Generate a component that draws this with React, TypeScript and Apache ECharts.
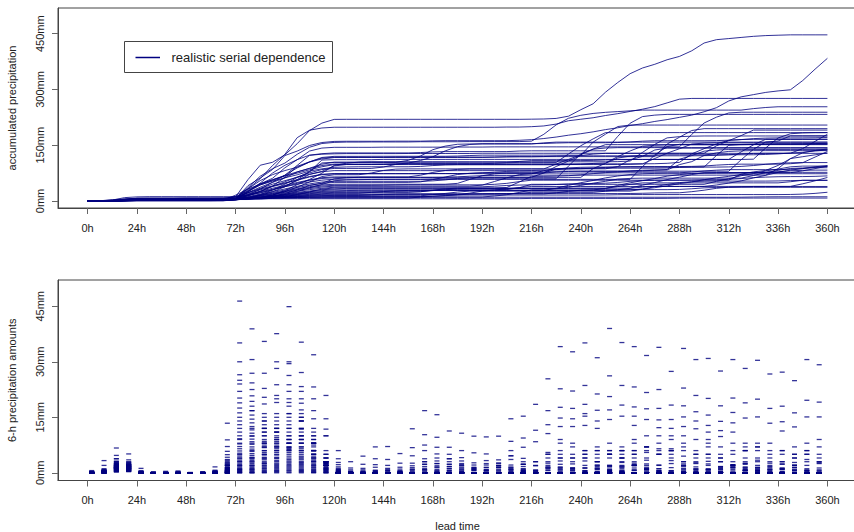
import React, { useEffect, useRef } from "react";
import * as echarts from "echarts";

const leadTimeTicks = [0, 24, 48, 72, 96, 120, 144, 168, 192, 216, 240, 264, 288, 312, 336, 360];
const accumTicks = [0, 150, 300, 450];
const amountTicks = [0, 15, 30, 45];
const legendLabel = "realistic serial dependence";
const stepHours = 6;
const dashOffsetHours = 2;

// 6-h amounts (mm) per member, intervals 0-6h ... 66-72h
const early: number[][] = [
  [0.2,1.1,3.8,2.4,0.2,0,0,0.1,0,0,0.3,2.7],
  [0.1,0.5,2.5,2.9,0,0,0.1,0,0,0,0.2,1.7],
  [0,0.3,1.9,1.6,0.1,0,0,0,0,0,0,2.0],
  [0.3,0.9,2.1,1.3,0,0.1,0,0.2,0,0.1,0.4,0.5],
  [0,0.2,1.5,1.8,0,0,0,0,0,0,0.1,1.4],
  [0.1,0.4,1.2,2.2,0.3,0,0,0,0,0,0,1.0],
  [0,0,0.9,1.0,0,0,0,0,0,0,0,2.3],
  [0,0.6,2.8,1.1,0,0,0,0,0,0,0,0.3],
  [0.4,3.3,1.3,0.6,0.1,0,0,0,0,0.2,0,0],
  [0,0.7,3.1,2.0,0,0,0,0,0,0,0,0],
  [0,0,0.5,0.4,0,0,0,0,0,0,0.1,1.2],
  [0.1,0.4,1.7,1.7,0,0,0,0.3,0,0,0,0.8],
  [0,0.2,0.8,0.9,0,0,0,0,0,0,0.5,0.6],
  [0,0.3,2.3,1.4,0.2,0,0,0,0,0,0,0.4],
  [0,0.1,1.0,0.8,0,0,0,0,0,0,0,2.0],
  [0,0.2,1.1,0.7,0,0,0,0,0,0,0.2,13.4],
  [0.6,0.8,1.4,1.2,0,0,0.4,0,0,0,0,0.5],
  [0.3,2.0,6.7,2.0,0.6,0,0,0,0,0,0,0],
  [0,0.4,1.6,1.0,0,0,0,0,0,0,0.7,8.9],
  [0.2,0.3,1.5,5.1,0,0,0,0.5,0,0,0,0],
  [0,0.5,2.0,1.8,1.2,0.3,0,0,0.1,0,0,0.2],
  [0,0.2,0.7,0.5,0,0,0,0,0,0,1.6,1.0],
  [0.1,0.3,1.3,1.4,0,0,0.2,0,0,0.3,0.5,7.1],
  [0,0.1,0.6,0.4,0,0,0,0,0,0,0.2,5.8],
  [0,0,0.5,0.6,0,0,0,0,0,0,0.3,4.9],
  [0,0.2,1.2,1.7,0.4,0,0,0,0,0,0,0.4],
  [0.1,0.4,1.4,1.3,0,0.1,0,0.1,0,0,0,4.2],
  [0,0.2,1.5,2.0,0,0,0,0,0,0,0,0.8],
  [0,0.1,1.1,1.6,0,0,0,0,0,0,0,1.2],
  [0,0,0.4,0.9,0,0,0,0,0,0,0,3.6],
  [0,0.2,1.9,1.4,0,0,0,0,0,0,0,0],
  [0,0,0.3,0.7,0,0,0,0,0,0,0,3.1],
  [0,0.4,2.2,1.2,0.1,0,0,0,0,0,0.1,0],
  [0,0,0.6,0.8,0,0,0,0,0,0,0,2.4],
  [0,0.1,1.3,1.1,0,0,0,0,0,0,0,1.4],
  [0,0,0.2,0.3,0,0,0,0,0,0,0,2.7],
  [0,0.3,1.6,1.5,0,0,0,0,0,0,0,0],
  [0,0,0.9,1.2,0,0,0,0,0,0,0,2.0],
  [0,0.2,2.5,1.8,0,0,0,0,0,0,0,0],
  [0.1,0.5,1.9,2.2,0,0,0,0,0,0,0,0.3],
  [0,0.1,2.3,2.4,0,0,0,0,0,0,0,0.2],
  [0,0.6,2.1,2.4,0.2,0,0,0,0,0,0,0.1],
  [0,0,1.7,2.6,0,0,0,0,0,0,0,1.4],
  [0,0.1,3.8,2.1,0,0,0,0,0,0,0,0],
  [0,0.2,2.8,2.9,0,0,0.1,0,0,0,0,0.8],
  [0,0.1,1.9,3.5,0,0,0,0,0,0.1,0.1,0.6],
  [0,0.3,4.7,1.8,0,0,0,0,0,0,0,0.3],
  [0.1,0.5,3.1,2.9,0.3,0,0,0.2,0,0,0,0.7],
  [0,0.2,2.5,2.2,0.1,0,0,0,0,0,0,2.0],
  [0,0,1.0,1.6,0,0,0,0,0,0,0,3.4],
];

// 6-h amounts, intervals 72-78h ... 114-120h
const phaseC: number[][] = [
  [46.4,38.9,8,20,30,35.3,20,10],
  [25,26.9,35.5,30,44.9,20,6,2],
  [35.1,20.8,22.8,37.6,12,15,8,3],
  [30,30.6,20.4,15,23.8,18.8,10,3],
  [18.9,24.3,26.9,20.9,15,23.3,8,2],
  [24,16.8,15,28.2,22,12,4,2],
  [12,15.6,18.6,19,26.3,27.1,3,1],
  [20.2,18,12,14,20,16,12,3],
  [8,12,14,23.8,29.5,12,10,2.5],
  [26.5,22.5,16,11,9,14,8,4],
  [5,10,12,16,18,15,31.9,1],
  [17.5,14.5,13,12,16,10,11,5],
  [4,8,10,13,19,22,23.2,2],
  [22,19.3,11,10,8,9,8,6],
  [1,4,7,12,16,14,16.8,20.9],
  [16.2,13.5,12,11,10,9,8,4],
  [9,11.6,14,12,13,11,9,3],
  [15,16.8,10,9,8,10,6,4],
  [3,6,8,11,14,17,8,14.6],
  [14,12.5,11,9.5,9,8,7,3],
  [13,10.7,9,8,11,8,6,2],
  [2,4,6,9,12,14,14.6,5],
  [11,9.9,8.5,8,7,9,6,2.5],
  [10,9.1,8,7.5,8,7,6,2],
  [7.8,8.4,7.5,8.5,9,8,5,2],
  [1,3,5,7,10,11.8,6,11.8],
  [9.2,7.7,7,7,6.5,6,5,2.5],
  [7.1,7,6.8,7,7,6.5,5,2],
  [6.5,6.4,6,6.5,6.8,6,5,2.8],
  [0.5,2,4,6,8,10,9,10],
  [5.9,5.8,5.5,6,6.3,5.5,4.5,2],
  [5.3,5.2,5,5.5,6,5,4,2],
  [4.8,4.7,4.8,5,5.5,4.5,4,2.7],
  [4.3,4.2,4.2,4.8,5,4.2,3.5,3],
  [0,1,2.5,4,6,7,7.5,3],
  [3.8,3.7,3.8,4.2,4.5,3.8,3.2,2],
  [3.4,3.3,3.5,3.8,4,3.5,3,2],
  [3,2.9,3,3.3,3.6,3,2.6,1.6],
  [2.6,2.5,2.7,3,3.2,2.8,2.2,1.5],
  [2.2,2.1,2.4,2.6,2.9,2.5,2,1.3],
  [1.9,1.8,2,2.3,2.6,2.2,1.8,1.2],
  [1.6,1.5,1.8,2,2.2,1.9,1.5,1],
  [1.3,1.2,1.5,1.7,1.9,1.6,1.3,0.8],
  [1,0.9,1.2,1.4,1.6,1.3,1,0.6],
  [0.8,0.7,1,1.1,1.3,1,0.8,0.5],
  [0.6,0.5,0.7,0.8,1,0.8,0.6,0.4],
  [0.4,0.3,0.5,0.6,0.7,0.6,0.4,0.2],
  [0.2,0.1,0.3,0.4,0.5,0.4,0.2,0.1],
  [0.1,0,0.1,0.2,0.2,0.2,0.1,0],
  [0,0,0,0,0,0,0,0],
];

// 6-h amounts, intervals 120-126h ... 210-216h
const phaseD: number[][] = [
  [0.2,0,0,0,0,0,0,0,0,0,0,0,0,0,0,0.4],
  [0,0,0,0,0,0,0,0,0,0,0,0,0,0.5,0,1],
  [0.4,0,0,0,0.3,0,0,0.8,0.5,0,0,0,0,0,1,1.7],
  [0.9,0,0.3,0,0,0,0.6,0,0,0,0.4,0,0,0,0,1.1],
  [0,0,0,0.4,0,0,0,0,0,0.3,0,0,0.5,0,0,0],
  [0,0,0,0,0,0,1,1.7,0.9,0,0,0,0,0,1.5,0.6],
  [0.6,0,0,0,0,0.3,0,0,0,0,0,0.6,0,0,0,0],
  [0,0,0.2,0,0,0,0,0,0,0.7,1.3,1,0,0,0,0],
  [0,0,0,0,0.6,0,0,0,0,0,0,0,0,0,0.5,0],
  [0,0.1,0,0,0,0,0,0,0,0,0,0,0.9,1.4,0,0],
  [0,0,0,0.7,0,0,0,0,0,0,0,0,0,0,0,0],
  [0,0,0,0,0,5.2,11.9,16.8,9.6,5,0.8,0,0,0,0,0],
  [0,0,0,0,0,0,0,0,0,0,0,0,0,0,2.1,2.3],
  [0.3,0,0,0.6,1.2,0.4,0,0,0,0,0,0,0.8,1.6,0.9,0],
  [6,3,0.8,0,0,0,0,0,0,0,0,0,0,0,0,0],
  [0,0,0,0,0,2.6,6.8,10.3,15.7,11.3,6,2.1,0,0,0,0],
  [0,0,0,3.8,7.1,1.5,0,0,0,0,0,0,0,0,0,0],
  [1.2,0.4,0,0,0,0,0.9,2.3,1.6,0.6,0,0,0,0,0,0],
  [3.8,0,0,0,0,0,0,0,0,0,0,0,0,0,0,0],
  [0,0,0,0,0,0,0,0,0,0,0,0,0,0,0,0.3],
  [0,0,0,0,0,0,0,0,0,0,0.4,1.2,2.1,1.9,0.7,0],
  [0,0,4.5,7,3.6,0.6,0,0,0,0,0,0,0,0,0,0],
  [0,0,0,0,0,0,0,0.4,0,0,0,0,0,0,0,0],
  [0,0,0,0,0,0,4.6,7.5,5.1,3,1.3,0,0,0,0,0],
  [0.6,0.2,0,0,0,0,0,0,0.4,1.1,1.9,1.4,0.6,0,0,0.8],
  [2.8,1.3,0.2,0,0,0,0,0,0,0,0,0,0,0,0,0],
  [0,0,0,0,0,0,0,0.8,0.5,0,0,0,0,0,0,0],
  [0,0,0,0,0,0,0,1.2,2.5,3.8,2.2,0.9,0,0,0,0],
  [0,0,0,0,0,0,1.4,6,6.9,6.9,3.2,1.5,0,0,0,0],
  [2.2,0.8,0.5,0.2,0,0,0,0,0,0,0,0,0,0,0,0],
  [0,0,0,0,0,0,0,0,0,2.3,10.7,9.9,5.1,2,0,0],
  [0,0,0,0.3,0.6,0.4,0,0,0,0,0,0,1.4,2.6,4.6,3.9],
  [0,0,0,0,0,0,0,0,0,0,0,2.7,9.7,9.9,8.5,2.3],
  [0.4,0.2,0,0,0,0,0,0,0,0,0,0.6,1.5,2,1.1,0.4],
  [0,0,0,0,0,0,0,0,0,0,0,0,0,1.4,14.6,15.3],
  [1.6,0,0,0,0,0,0,0,0,0,0,0,0,0,0,0],
  [0,0,0,0,0,0,0,0,0,0,0,0,0,0.9,4.6,9.4],
  [0.9,0.4,0.2,0,0,0,0,0,0,0,0,0,0,0,0,0],
  [0,0,0,0,0,0,0,3.8,4,1.7,0,0,0,0,0,0],
  [0,0,0,0,0,0,1.9,3,2.5,1.7,0.8,0,0,0,0,0],
  [0,0,2.3,2.2,2,1,0,0,0,0,0,0,0,0,0,0],
  [0,0,0,0,0,0,0,0,0,0,0,0,0,0.5,1.5,2.3],
  [0,0,0,0,0,0,0,0,0,0,4.1,5.4,3.3,2.6,3.6,3],
  [0,0,1.2,1.5,0.9,0.3,0,0,0,0,0,0,0,0,0,0],
  [0,0,0,0,0,0,0,3,3.2,3.8,2.5,0,0,0,0,0],
  [0,0,0,0,0,0,0.3,0.8,1.4,2.3,1.9,1,0.5,0,0,0],
  [0,0,0,0,0,0,0,0,0,0,0,0,2.5,3.5,6,6.9],
  [0,0,0,0,0,0,0,0,0,0,0,0,0,0,0,0],
  [0,0,0,0,0,0,2.6,2.3,1.9,1.2,0,0,0,0,0,0],
  [0,0,0,0,0,0,0,0,0,0,0,0,0,0,0.3,0.6],
];

// 6-h amounts, intervals 216-222h ... 354-360h
const phaseF: number[][] = [
  [0.5,1.5,6,17.4,16,31.1,26.2,23.6,15.3,10,12.2,9,15.1,20.9,9,3,3,3,2,1,1,0,0,0],
  [2,5,9,4,4,6,5,6,6,7,10,10,2,0,0,0,0,0,0,0,0,0,0,0],
  [3,4,5,4,5,6,5,6,5,6,5,6,6,9,11,18.1,11,6,6,4,3,24.9,30.6,29.2],
  [18.5,25.4,17.7,8,5,3,2,2,2,0,0,0,0,0,0,0,0,4,3,2,0,0,0,0],
  [0,0,0,0,0,0,0,0,0,0,0,0,33.6,30.6,15.6,11.4,2,0,0,0,0,0,0,0],
  [0,0,0,0,0,0,39,35.2,17.8,4,2,0,0,0,0,0,0,0,0,0,0,0,0,0],
  [0,0,0,0,0,0,0,0,0,0,0,0,0,0,20.1,13.9,13.5,14.8,0,0,0,0,0,0],
  [0,0,0,0,35.1,21.3,20.6,4,0,0,0,0,0,0,0,0,0,0,0,0,0,0,0,0],
  [0.6,1.3,0.8,0,0,0,0,0,0,0,0,0,0,0.3,0.9,1.6,2.2,1.4,0.5,0,0,12.4,19.6,19.1],
  [0,0,0,0,0,0,0,0,0,0,33.9,18.3,18.1,5,0,0,0,0,0,0,0,0,0,0],
  [0,0,0,0,0,0,0,0,0,0,0,0,0,0,0,0,20.2,18.9,15.1,0,0,0,0,0],
  [3,2,0,0,0,0,0,0,0,0,0,0,0,0,0,0,0,0,0,3,13.8,0,0,0],
  [0,0,0,0,0.5,1.2,0.9,0.4,0,0,0,0,0,0,0,0,0,0.8,30.4,26.7,11.3,2.1,0.8,0.3],
  [0,0,22.7,22.1,18.5,16.9,0,0,0,0,0,0,0,0,0,0,0,0,0,0,0,0,0,0],
  [0,0,0,0,0,0,0.4,1.6,23.2,21.7,17.4,3.3,1.2,0.6,0,0,0,0,0,0,0,0,0,0],
  [0.5,1.2,0.8,0,0,0,0.6,1.5,2.2,1.1,0,0,0,0,0.4,0.9,1.8,2.6,1.4,0.6,0,0,0.3,0.8],
  [0,0,0,0,0,0,0,0,0,0.3,1.1,2.5,22.9,14,12.8,9.8,1.9,0.6,0,0,0,0,0,0],
  [0,0,0.4,1.1,2,1.3,17,15.3,12.8,2.4,1.1,0.5,0,0,0,0,0,0.7,1.2,0.9,0,0,0,0],
  [0,0,0,0,0,0,0,0.5,1.3,14.4,14.3,12,12.5,2.7,0.9,0,0,0,0,0,0,0,0,0],
  [0.8,1.6,2.3,1.2,0.4,0,0,0,0,0,0.6,1.4,0.9,0.3,30.9,27.5,2.2,0.8,0,0,0,0.5,1.1,0.6],
  [0,0,0,0,0,0,0,0,0,0,0,0,0,0,0,0,30.6,28.2,19.9,0,0,0,0,0],
  [0,0,0,0.5,1.4,2.1,1.6,0.7,0,0,0,0,0.4,1,2.4,1.7,0.9,0,0,0,1.2,2.8,15.1,15.1],
  [1.9,2.6,1.4,0.6,0,0,0,0.3,0.8,1.5,2.1,27.4,10,11.9,3.1,1.2,0,0,0,0,0,0,0,0],
  [0,13,12.5,12.5,15.3,12,0,0,0,0,0,0,0,0,0,0,0,0,0,0,0,0,0,0],
  [0,0,0,0,0,0,0,0,0,0,0,0,0,0,0,0,0,0,0,17.4,27.2,5,5,5],
  [11.5,10.6,3.2,1.4,0.6,0,0,0,0,0,0,0,0,0,0,0.5,1.4,2.3,3.4,2.6,1.3,0.7,0,0],
  [0,0,34.1,32.7,12.8,3,1,0,0,0,0,0,0,0,0,0,0,0,0,0,0,0,0,0],
  [0,0,0,0,23.6,14,14.4,5,2,1.2,0.6,0,0,0,0,0,0,0,0.8,1.5,2.4,1.9,3.6,2.7],
  [0,16.8,14.8,14.6,4,2,0,0,0,0,0,0,0,0,0,0,0,0,0,0,0,0,0,0],
  [0,0,0,0,0,0,0,0,34.1,31.7,22.5,6,0,0,0,0,0,0,0,0,0,0,0,0],
  [0,0,0,0,0.4,0.9,1.7,2.8,1.9,0.7,0,14.4,8,16.5,7,4,1.5,0.6,0,0,0,0,0,0],
  [0,0,0,0,0,0,0,0,0,0,0,0,0,0,0,0,16.3,6,4,13.4,18,16.2,6,4],
  [8.4,5,0,0,0,0,6,18.3,9,17.3,5,0,0,0,0,0,0,0,0,0,0,0,0,0],
  [0.3,0.8,1.6,0.9,0,1,2,3,2,1,0,0,0.5,0.9,0,1,2,2.5,1.5,1,0.4,0,0.6,1.3],
  [0,0.6,1.2,2.4,3.2,1.7,0.5,0,0,0,0,0,2,3,2,1.5,0,0,0,0,1,2,3,2.5],
  [0,0,0,0,0,0,8,7,6,5.5,6.5,4,3,1.6,0.8,0.3,0,0,0.6,1.7,2.3,1.4,0.5,0],
  [0,0,0,0,0,0,0,0,0,0,0,0,0,0,8,7,8,6,7,5,6,2,0,0],
  [0,5.5,8,7,6,7,5,4,2.1,0.9,0.4,0,0,0,0,0,0.5,1.2,0.8,0,0,0,0,0],
  [0,0,0,0,0,0,0,0,8,7,8,6.5,7,5,0,0,0,0,0,0,0,5,6,7],
  [0,0,4,5,6,5,6,1.8,0.7,0,0,0,0,0,0,0,0,7,8,6,5,1.4,0.6,0],
  [0,0,0,0,0,0,0.3,1.1,2.6,3.4,5,6,4.5,6,5,4,5,1.6,0.5,0,0,0,0,0],
  [0,0,0,0,0,3,4,4,3,2,0,0,0,0,0,0,0,0,0,0,0,7,8,9],
  [0,0,0,0,0,0,0,0,0,0,0,0,0,0,4,5,6,8,7,8,6,4,5,3],
  [0,3,4,3,1.2,0.4,0,0,0,0,0,0.6,1.7,2.5,1.1,0.3,0,0,0,0,0,0,0,0],
  [0,0,0,0,0,0,0,0,5,7,6,5,2.4,1.1,0.5,0,0,0,0,0.4,0.9,0.6,0,0],
  [0,0,0,0,0,0,0,0.2,0.6,0.9,0.4,0,3,4,5,3,1.3,0.7,0,0,0,0,0,0],
  [0,0,0,0,0,4,5,6,4,0,0,0,0,0,0,0,0,0,0,0,3,4,0,0],
  [0,0,0,0,0,0,0,0,0,0,0,0,0,0,0,0,0.2,0.5,0.4,0.2,0,0,0,0],
  [0,0,0,0,0,0.3,0.6,0.4,0,0,0,0,0,0,0,0,0,0,0,0,0.3,0.9,2,3],
  [0,0,0,0,0,0,0,0,0,0,0.2,0.4,0.3,0,0,0,0,0,0,0,0,0,0,0],
];

const members: number[][] = early.map((e, i) => [...e, ...phaseC[i], ...phaseD[i], ...phaseF[i]]);

const NAVY = "#000080";
const FONT = "'Liberation Sans', Arial, Helvetica, sans-serif";
const TEXT = "#222";
const LINE = "#444";

export default function App() {
  const ref = useRef<HTMLDivElement>(null);
  useEffect(() => {
    if (!ref.current) return;
    const chart = echarts.init(ref.current, undefined, { renderer: "svg" });

    const lineSeries = members.map((amounts) => {
      let acc = 0;
      const pts: number[][] = [[0, 0]];
      amounts.forEach((a, k) => {
        acc += a;
        pts.push([(k + 1) * stepHours, Math.round(acc * 100) / 100]);
      });
      return {
        type: "line",
        xAxisIndex: 0,
        yAxisIndex: 0,
        data: pts,
        showSymbol: false,
        symbol: "none",
        silent: true,
        lineStyle: { color: NAVY, width: 0.9, opacity: 0.9 },
      };
    });

    const dashData: number[][] = [];
    members.forEach((amounts) => {
      amounts.forEach((a, k) => {
        dashData.push([k * stepHours + dashOffsetHours, a]);
      });
    });

    const xAxisBase = (grid: number) => ({
      type: "value",
      gridIndex: grid,
      min: -14.4,
      max: 374.4,
      axisLine: { show: true, onZero: false, lineStyle: { color: LINE, width: 1 } },
      axisTick: { show: true, customValues: leadTimeTicks, length: 6, lineStyle: { color: "#666" } },
      axisLabel: {
        customValues: leadTimeTicks,
        formatter: (v: number) => `${v}h`,
        fontSize: 11,
        color: TEXT,
        fontFamily: FONT,
        margin: 14,
      },
      splitLine: { show: false },
    });

    const yAxisBase = (grid: number, min: number, max: number, ticks: number[], name: string) => ({
      type: "value",
      gridIndex: grid,
      min,
      max,
      name,
      nameLocation: "middle",
      nameRotate: 90,
      nameGap: 41,
      nameTextStyle: { fontSize: 11, color: TEXT, fontFamily: FONT },
      axisLine: { show: true, onZero: false, lineStyle: { color: LINE, width: 1 } },
      axisTick: { show: true, customValues: ticks, length: 6, lineStyle: { color: "#666" } },
      axisLabel: {
        customValues: ticks,
        formatter: (v: number) => `${v}mm`,
        rotate: 90,
        fontSize: 11,
        color: TEXT,
        fontFamily: FONT,
        margin: 13,
      },
      splitLine: { show: false },
    });

    const gridBase = {
      left: 58,
      width: 799,
      show: true,
      borderColor: LINE,
      borderWidth: 1,
      backgroundColor: "transparent",
      containLabel: false,
      outerBoundsMode: "none",
    };

    chart.setOption({
      animation: false,
      textStyle: { fontFamily: FONT },
      grid: [
        { ...gridBase, top: 8, height: 200 },
        { ...gridBase, top: 280, height: 200.5 },
      ],
      xAxis: [
        xAxisBase(0),
        {
          ...xAxisBase(1),
          name: "lead time",
          nameLocation: "middle",
          nameGap: 40,
          nameTextStyle: { fontSize: 11, color: TEXT, fontFamily: FONT },
        },
      ],
      yAxis: [
        yAxisBase(0, -18.9, 519, accumTicks, "accumulated precipitation"),
        yAxisBase(1, -2.08, 52.1, amountTicks, "6-h precipitation amounts"),
      ],
      series: [
        ...lineSeries,
        {
          type: "scatter",
          xAxisIndex: 1,
          yAxisIndex: 1,
          data: dashData,
          symbol: "rect",
          symbolSize: [5, 1.3],
          silent: true,
          itemStyle: { color: NAVY, opacity: 0.8 },
        },
      ],
      graphic: [
        {
          type: "rect",
          shape: { x: 124.5, y: 41.5, width: 208, height: 31 },
          style: { fill: "#fff", stroke: LINE, lineWidth: 1 },
          z: 100,
        },
        {
          type: "line",
          shape: { x1: 135.5, y1: 57.5, x2: 160, y2: 57.5 },
          style: { stroke: NAVY, lineWidth: 1.5 },
          z: 101,
        },
        {
          type: "text",
          x: 171.5,
          y: 57.5,
          style: { text: legendLabel, fontSize: 13, fill: TEXT, fontFamily: FONT, verticalAlign: "middle", textAlign: "left" },
          z: 101,
        },
      ],
    });

    return () => chart.dispose();
  }, []);

  return (
    <div
      ref={ref}
      style={{ position: "absolute", left: 0, top: 0, width: 854, height: 532, background: "#fff" }}
    />
  );
}
